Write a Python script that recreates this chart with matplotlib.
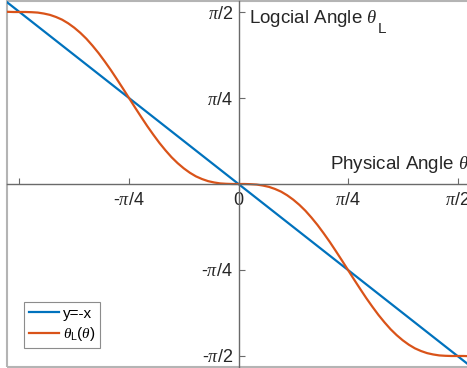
import numpy as np
import matplotlib.pyplot as plt
from matplotlib.patches import Rectangle

plt.rcParams['font.family'] = ['Liberation Sans', 'DejaVu Sans']
plt.rcParams['mathtext.fontset'] = 'custom'
plt.rcParams['mathtext.rm'] = 'Liberation Sans'
plt.rcParams['mathtext.it'] = 'Liberation Serif:italic'

# physical angle and logical angle, degrees
theta = [-95, -92.5, -90, -87.5, -85, -82.5, -80, -77.5, -75, -72.5, -70,
         -67.5, -65, -62.5, -60, -57.5, -55, -52.5, -50, -47.5, -45, -42.5,
         -40, -37.5, -35, -32.5, -30, -27.5, -25, -22.5, -20, -17.5, -15,
         -12.5, -10, -7.5, -5, -2.5, 0, 2.5, 5, 7.5, 10, 12.5, 15, 17.5, 20,
         22.5, 25, 27.5, 30, 32.5, 35, 37.5, 40, 42.5, 45, 47.5, 50, 52.5,
         55, 57.5, 60, 62.5, 65, 67.5, 70, 72.5, 75, 77.5, 80, 82.5, 85,
         87.5, 90, 92.5, 95]
theta_L = [90.1, 90.0, 90.0, 90.0, 89.9, 89.7, 89.2, 88.5, 87.4, 86.0, 84.1,
           81.8, 79.1, 76.0, 72.4, 68.5, 64.2, 59.7, 54.9, 50.0, 45.0, 40.0,
           35.1, 30.3, 25.8, 21.5, 17.6, 14.0, 10.9, 8.2, 5.9, 4.0, 2.6,
           1.5, 0.8, 0.3, 0.1, 0.0, 0.0, 0.0, -0.1, -0.3, -0.8, -1.5, -2.6,
           -4.0, -5.9, -8.2, -10.9, -14.0, -17.6, -21.5, -25.8, -30.3, -35.1,
           -40.0, -45.0, -50.0, -54.9, -59.7, -64.2, -68.5, -72.4, -76.0,
           -79.1, -81.8, -84.1, -86.0, -87.4, -88.5, -89.2, -89.7, -89.9,
           -90.0, -90.0, -90.0, -90.1]
line_x = [-95, 95]
line_y = [95, -95]

tick_x = [-90, -45, 0, 45, 90]
tick_x_lab = ['', r'-$\pi$/4', '0', r'$\pi$/4', r'$\pi$/2']
tick_y = [-90, -45, 45, 90]
tick_y_lab = [r'-$\pi$/2', r'-$\pi$/4', r'$\pi$/4', r'$\pi$/2']

blue = '#0072BD'
orange = '#D95319'
axcol = '#6a6a6a'
txtcol = '#262626'

fig = plt.figure(figsize=(4.67, 3.68), dpi=100)
ax = fig.add_axes([7 / 467, 1 / 368, 463 / 467, 366 / 368])

ax.plot(np.deg2rad(line_x), np.deg2rad(line_y), color=blue, lw=1.6, label='y=-x')
ax.plot(np.deg2rad(theta), np.deg2rad(theta_L), color=orange, lw=1.6,
        label=r'$\theta_{\rm L}(\theta)$')

lim = 1.057 * np.pi / 2
ax.set_xlim(-lim, lim)
ax.set_ylim(-1.064 * np.pi / 2, 1.064 * np.pi / 2)

# axes through the origin
for s in ['top', 'right']:
    ax.spines[s].set_visible(False)
ax.spines['left'].set_position(('data', 0))
ax.spines['bottom'].set_position(('data', 0))
for s in ['left', 'bottom']:
    ax.spines[s].set_color(axcol)
    ax.spines[s].set_linewidth(1.0)

# outer box
ax.add_patch(Rectangle((0, 0), 1, 1, transform=ax.transAxes, fill=False,
                       edgecolor='#b4b4b4', lw=1.5, clip_on=False, zorder=0))

ax.set_xticks(np.deg2rad(tick_x))
ax.set_xticklabels(tick_x_lab)
ax.set_yticks(np.deg2rad(tick_y))
ax.set_yticklabels(tick_y_lab)
ax.tick_params(axis='both', direction='in', length=4, width=0.8,
               color=axcol, labelsize=13, labelcolor=txtcol)
ax.tick_params(axis='x', pad=6)
ax.tick_params(axis='y', pad=4)

# axis names, subscript L set low like the TeX interpreter does
ylab = ax.text(np.deg2rad(4.3), np.deg2rad(84.0), r'Logcial Angle $\theta$',
               fontsize=13.5, color=txtcol, ha='left', va='baseline')
ax.annotate('L', xy=(1, 0), xycoords=ylab, xytext=(0.5, -5),
            textcoords='offset points', fontsize=11, color=txtcol,
            ha='left', va='bottom')
ax.text(np.deg2rad(94.5), np.deg2rad(8.0), r'Physical Angle $\theta$',
        fontsize=13.5, color=txtcol, ha='right', va='baseline')

leg = ax.legend(loc='lower left', bbox_to_anchor=(17 / 463, 19 / 366),
                borderaxespad=0, fancybox=False, framealpha=1,
                edgecolor='#8c8c8c', fontsize=11, handlelength=2.0,
                handletextpad=0.25, borderpad=0.3, labelspacing=0.3)
leg.get_frame().set_linewidth(0.8)

fig.savefig('out.png', dpi=100)
